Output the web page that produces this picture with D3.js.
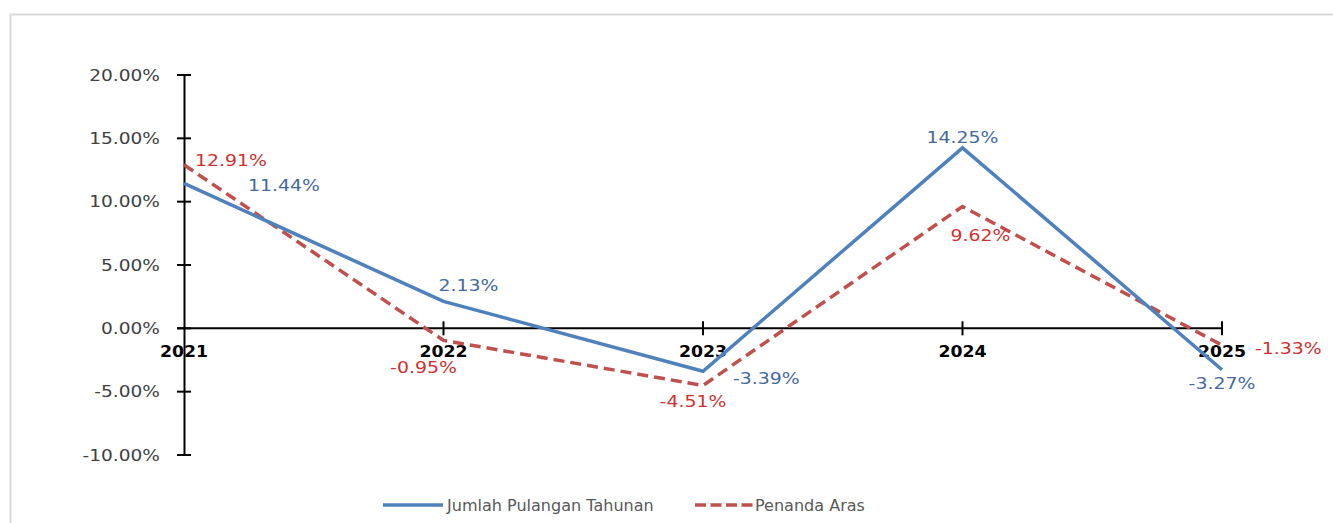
<!DOCTYPE html>
<html><head><meta charset="utf-8">
<script src="https://cdn.jsdelivr.net/npm/d3@7"></script>
<style>html,body{margin:0;padding:0;background:#fff;}svg{display:block;}</style>
</head><body>
<svg id="c" width="1333" height="523"></svg>
<script>
const years = ["2021","2022","2023","2024","2025"];
const jumlahPulangan = [11.44, 2.13, -3.39, 14.25, -3.27];
const penandaAras = [12.91, -0.95, -4.51, 9.62, -1.33];
const yTicks = [20, 15, 10, 5, 0, -5, -10];
const seriesNames = ["Jumlah Pulangan Tahunan", "Penanda Aras"];

const svg = d3.select("#c");
const W = 1333, H = 523;
const blue = "#4F81BD", red = "#C0504D";
const blueText = "#44699F", redText = "#D0302F";
const FONT = "DejaVu Sans";
const pct = v => d3.format(".2f")(v).replace("\u2212","-") + "%";

// outer frame
svg.append("path").attr("d", `M10.5,${H} V14.5 H${W}`).attr("fill","none")
  .attr("stroke","#d9d9d9").attr("stroke-width",2);

const x = d3.scalePoint().domain(years).range([184, 1222]);
const y = d3.scaleLinear().domain([-10, 20]).range([455, 75]);

// y axis
const yAxis = d3.axisLeft(y).tickValues(yTicks).tickSize(0).tickFormat("");
const gy = svg.append("g").attr("transform","translate(184,0)").call(yAxis);
gy.select(".domain").attr("stroke","#000").attr("stroke-width",2);
yTicks.forEach(t => {
  svg.append("line").attr("x1",177).attr("x2",191).attr("y1",y(t)).attr("y2",y(t))
    .attr("stroke","#000").attr("stroke-width",2);
  svg.append("text").attr("transform",`translate(160,${y(t)+5.5}) scale(1.24,1)`)
    .attr("text-anchor","end").attr("font-family",FONT).attr("font-size",15)
    .attr("fill","#404040").text(pct(t));
});

// x axis at 0
svg.append("line").attr("x1",177).attr("x2",x(years[4])).attr("y1",y(0)).attr("y2",y(0))
  .attr("stroke","#000").attr("stroke-width",2);
years.forEach((yr,i) => {
  if (i>0) svg.append("line").attr("x1",x(yr)).attr("x2",x(yr)).attr("y1",y(0)-7).attr("y2",y(0)+7)
    .attr("stroke","#000").attr("stroke-width",2);
  svg.append("text").attr("transform",`translate(${x(yr)},357) scale(1.08,1)`)
    .attr("text-anchor","middle").attr("font-family",FONT).attr("font-weight","bold")
    .attr("font-size",16).attr("fill","#000").text(yr);
});

const line = d3.line().x((d,i)=>x(years[i])).y(d=>y(d));
svg.append("path").datum(penandaAras).attr("d",line).attr("fill","none")
  .attr("stroke",red).attr("stroke-width",3.5).attr("stroke-dasharray","11,6");
svg.append("path").datum(jumlahPulangan).attr("d",line).attr("fill","none")
  .attr("stroke",blue).attr("stroke-width",3.5);

// data labels: [dx, dy, anchor]
const blueOff = [[64,8,"start"],[25,-10,"middle"],[30,13,"start"],[0,-5,"middle"],[0,19,"middle"]];
const redOff = [[11,1,"start"],[-20,33,"middle"],[-10,22,"middle"],[18,35,"middle"],[33,9,"start"]];
function labels(vals, offs, col){
  vals.forEach((v,i)=>{
    const o = offs[i];
    svg.append("text").attr("transform",`translate(${x(years[i])+o[0]},${y(v)+o[1]}) scale(1.26,1)`)
      .attr("text-anchor",o[2]).attr("font-family",FONT).attr("font-size",15)
      .attr("fill",col).text(pct(v));
  });
}
labels(jumlahPulangan, blueOff, blueText);
labels(penandaAras, redOff, redText);

// legend
const lg = svg.append("g");
lg.append("line").attr("x1",383).attr("x2",443).attr("y1",505).attr("y2",505)
  .attr("stroke",blue).attr("stroke-width",3.5);
lg.append("text").attr("transform","translate(447,510.5) scale(1.07,1)")
  .attr("font-family",FONT).attr("font-size",15).attr("fill","#595959").text(seriesNames[0]);
lg.append("line").attr("x1",695).attr("x2",753).attr("y1",505).attr("y2",505)
  .attr("stroke",red).attr("stroke-width",3.5).attr("stroke-dasharray","11,4.5");
lg.append("text").attr("transform","translate(755,510.5) scale(1.07,1)")
  .attr("font-family",FONT).attr("font-size",15).attr("fill","#595959").text(seriesNames[1]);
</script>
</body></html>
